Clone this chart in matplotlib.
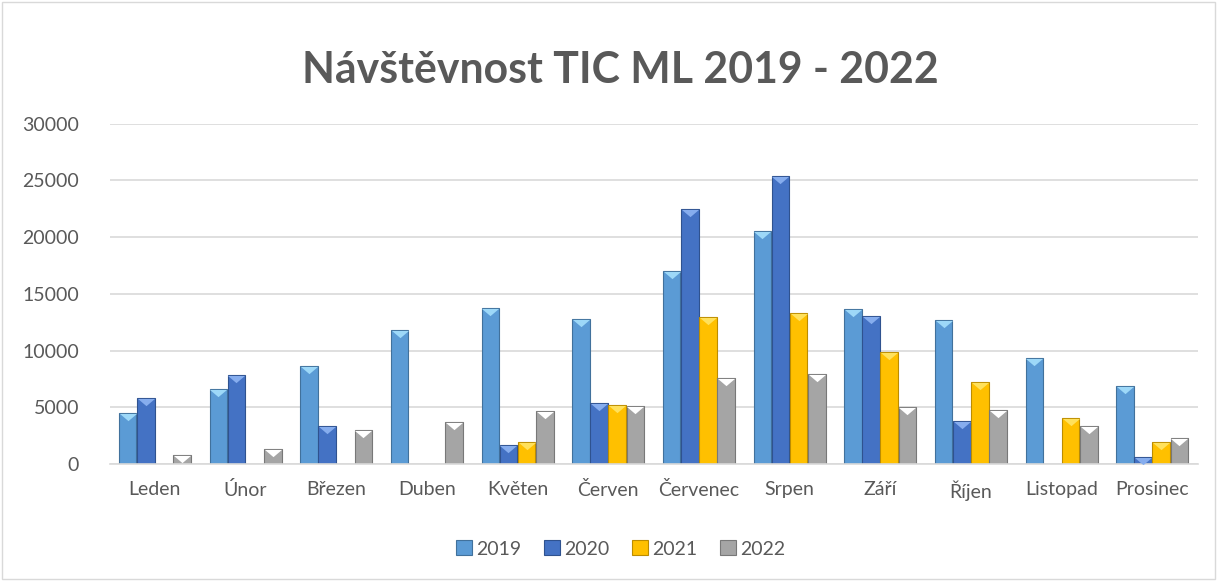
import matplotlib.pyplot as plt
from matplotlib.path import Path
import numpy as np

plt.rcParams['font.family'] = ['Lato', 'DejaVu Sans']

# data
mesice = ['Leden', 'Únor', 'Březen', 'Duben', 'Květen', 'Červen', 'Červenec',
          'Srpen', 'Září', 'Říjen', 'Listopad', 'Prosinec']
roky = ['2019', '2020', '2021', '2022']
v2019 = [4550, 6600, 8650, 11800, 13800, 12800, 17000, 20550, 13700, 12700, 9350, 6900]
v2020 = [5800, 7850, 3400, 0, 1700, 5400, 22450, 25400, 13100, 3800, 0, 600]
v2021 = [0, 0, 0, 0, 1950, 5200, 13000, 13350, 9900, 7250, 4050, 1950]
v2022 = [800, 1300, 3000, 3700, 4700, 5100, 7600, 7950, 5000, 4750, 3350, 2350]

barvy = ['#5B9BD5', '#4472C4', '#FFC000', '#A5A5A5']
svetle = ['#9DD8F8', '#86ADEE', '#FFE15C', '#FFFFFF']
okraje = ['#41719C', '#2F528F', '#BC8C00', '#787878']
seda = '#595959'

# trojuhelnik na vrchu sloupce (plochy vrch, spicka dolu)
trojuhelnik = Path([(-1, -0.05), (1, -0.05), (0, -0.9), (-1, -0.05)],
                   [Path.MOVETO, Path.LINETO, Path.LINETO, Path.CLOSEPOLY])

fig = plt.figure(figsize=(12.17, 5.81), dpi=100)
ax = fig.add_axes([0.090, 0.201, 0.894, 0.586])

x = np.arange(len(mesice))
w = 0.2
for i, (vals, rok) in enumerate(zip([v2019, v2020, v2021, v2022], roky)):
    xs = x + (i - 1.5) * w
    vals = np.array(vals)
    mask = vals > 0
    ax.bar(xs[mask], vals[mask], width=w * 0.97, color=barvy[i], edgecolor=okraje[i],
           linewidth=0.8, label=rok, zorder=2)
    ax.scatter(xs[mask], vals[mask], marker=trojuhelnik, s=150, color=svetle[i],
               zorder=3, linewidths=0)

ax.set_xlim(-0.5, len(mesice) - 0.5)
ax.set_ylim(0, 30000)
ax.set_yticks(range(0, 30001, 5000))
ax.set_xticks(x)
ax.set_xticklabels(mesice)
ax.tick_params(axis='both', length=0, labelsize=14, colors=seda)
ax.tick_params(axis='x', pad=12)
ax.tick_params(axis='y', pad=22)
ax.grid(axis='y', color='#D9D9D9', linewidth=1.2, zorder=0)
ax.set_axisbelow(True)
for s in ['top', 'right', 'left']:
    ax.spines[s].set_visible(False)
ax.spines['bottom'].set_color('#D9D9D9')
ax.spines['bottom'].set_linewidth(1.2)

fig.text(0.51, 0.880, 'Návštěvnost TIC ML 2019 - 2022', ha='center', va='center',
         fontsize=30.8, fontweight='bold', color=seda)

leg = fig.legend(loc='center', bbox_to_anchor=(0.51, 0.055), ncol=4, frameon=False,
                 fontsize=14, handlelength=0.8, handleheight=0.8, handletextpad=0.2,
                 columnspacing=1.2, labelcolor=seda)

# ramecek kolem grafu
fig.patches.append(plt.Rectangle((0.002, 0.003), 0.996, 0.994, transform=fig.transFigure,
                                 fill=False, edgecolor='#D9D9D9', linewidth=1))

plt.savefig('out.png', dpi=100)
